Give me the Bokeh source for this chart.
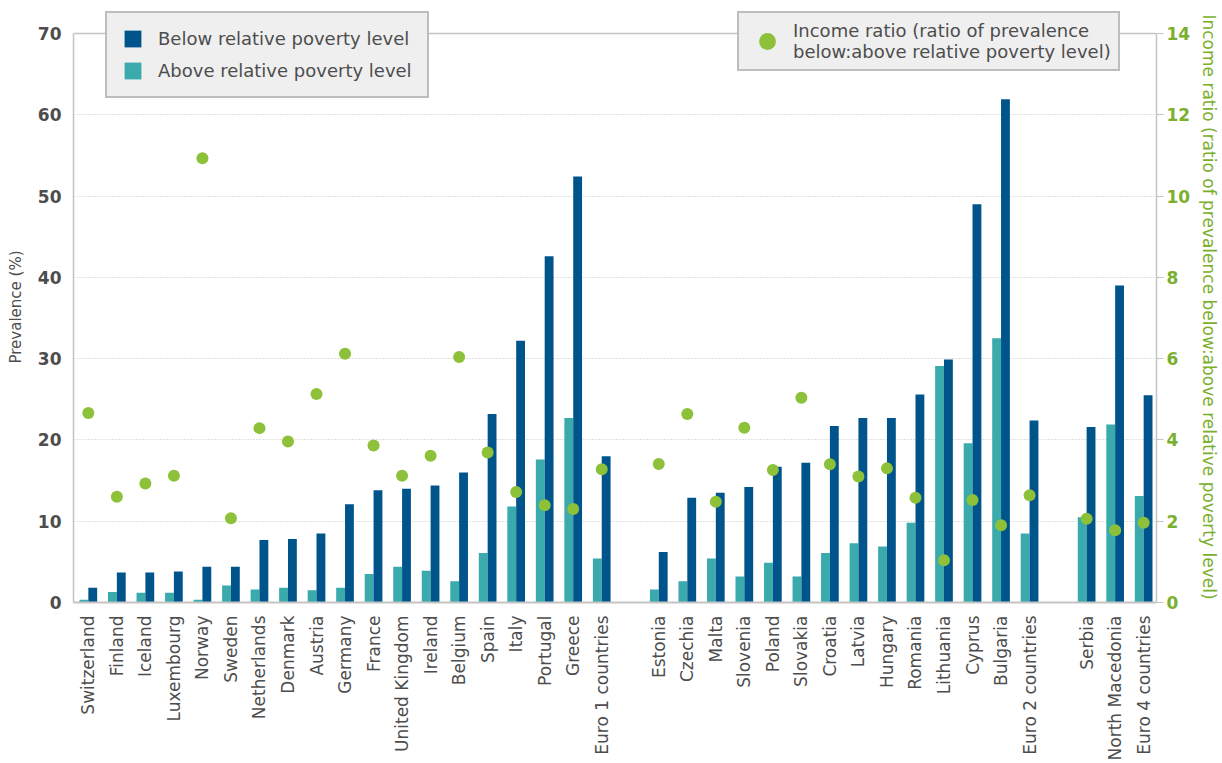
import numpy as np
from bokeh.plotting import figure
from bokeh.models import (Range1d, LinearAxis, FixedTicker, Legend, LegendItem,
                          Span, ColumnDataSource)
from bokeh.transform import dodge
from bokeh.embed import file_html
from bokeh.resources import INLINE

# ---------------- data ----------------
group1 = ["Switzerland", "Finland", "Iceland", "Luxembourg", "Norway", "Sweden",
          "Netherlands", "Denmark", "Austria", "Germany", "France", "United Kingdom",
          "Ireland", "Belgium", "Spain", "Italy", "Portugal", "Greece", "Euro 1 countries"]
below1 = [1.8, 3.7, 3.7, 3.8, 4.4, 4.4, 7.7, 7.8, 8.5, 12.1, 13.8, 14.0, 14.4, 16.0,
          23.2, 32.2, 42.6, 52.4, 18.0]
above1 = [0.35, 1.3, 1.2, 1.2, 0.35, 2.1, 1.6, 1.8, 1.5, 1.8, 3.5, 4.4, 3.9, 2.6,
          6.1, 11.8, 17.6, 22.7, 5.4]
ratio1 = [4.66, 2.60, 2.93, 3.12, 10.93, 2.07, 4.29, 3.96, 5.13, 6.12, 3.86, 3.12,
          3.61, 6.04, 3.69, 2.72, 2.39, 2.30, 3.28]

group2 = ["Estonia", "Czechia", "Malta", "Slovenia", "Poland", "Slovakia", "Croatia",
          "Latvia", "Hungary", "Romania", "Lithuania", "Cyprus", "Bulgaria",
          "Euro 2 countries"]
below2 = [6.2, 12.9, 13.5, 14.2, 16.7, 17.2, 21.7, 22.7, 22.7, 25.6, 29.9, 49.0, 61.9, 22.4]
above2 = [1.6, 2.6, 5.4, 3.2, 4.9, 3.2, 6.1, 7.3, 6.9, 9.8, 29.1, 19.6, 32.5, 8.5]
ratio2 = [3.41, 4.64, 2.48, 4.30, 3.26, 5.04, 3.40, 3.10, 3.30, 2.58, 1.04, 2.52, 1.90, 2.64]

group3 = ["Serbia", "North Macedonia", "Euro 4 countries"]
below3 = [21.6, 39.0, 25.5]
above3 = [10.5, 21.9, 13.1]
ratio3 = [2.06, 1.78, 1.96]

left_ticks = [0, 10, 20, 30, 40, 50, 60, 70]
right_ticks = [0, 2, 4, 6, 8, 10, 12, 14]

# ---------------- styles ----------------
FONT = "DejaVu Sans"
DARK = "#00548C"
TEAL = "#3AAAAD"
GREEN = "#8DC13A"
GREEN_TXT = "#7BAF2E"
GREY_TXT = "#4D4D4D"
AXIS_GREY = "#C4C4C4"

# positions: one empty slot between the groups
names, xs, below, above, ratio = [], [], [], [], []
slot = 0
for g, b, a, r in [(group1, below1, above1, ratio1),
                   (group2, below2, above2, ratio2),
                   (group3, below3, above3, ratio3)]:
    for n, bb, aa, rr in zip(g, b, a, r):
        names.append(n); xs.append(slot); below.append(bb); above.append(aa); ratio.append(rr)
        slot += 1
    slot += 1

src = ColumnDataSource(dict(x=xs, name=names, below=below, above=above, ratio=ratio))

# frame spans 592 px; 70 sits 22 px below its top so the legends fit inside it
Y_TOP = 70 * 592 / 570
p = figure(width=1222, height=763, x_range=Range1d(-0.52, xs[-1] + 0.45),
           y_range=Range1d(0, Y_TOP), output_backend="svg", toolbar_location=None,
           min_border_left=73, min_border_right=59, min_border_top=11,
           min_border_bottom=160)
p.outline_line_color = None
p.background_fill_color = "white"
p.border_fill_color = "white"

p.extra_y_ranges = {"ratio": Range1d(0, Y_TOP / 5)}

r_above = p.vbar(x=dodge("x", -0.155), top="above", width=0.31, source=src,
                 fill_color=TEAL, line_color=None)
r_below = p.vbar(x=dodge("x", 0.155), top="below", width=0.31, source=src,
                 fill_color=DARK, line_color=None)
r_ratio = p.scatter(x="x", y="ratio", y_range_name="ratio", size=12, source=src,
                    fill_color=GREEN, line_color=None)

# grid
p.xgrid.visible = False
p.ygrid.ticker = FixedTicker(ticks=left_ticks[1:-1])
p.ygrid.grid_line_color = "#C2C2C2"
p.ygrid.grid_line_dash = "1 2"
p.ygrid.grid_line_width = 1.2
p.add_layout(Span(location=70, dimension="width", line_color=AXIS_GREY, line_width=1.5))

# x axis
xa = p.xaxis[0]
xa.ticker = FixedTicker(ticks=xs)
xa.major_label_overrides = {x: n for x, n in zip(xs, names)}
xa.major_label_orientation = np.pi / 2
xa.major_label_text_font = FONT
xa.major_label_text_font_size = "17px"
xa.major_label_text_color = GREY_TXT
xa.major_label_standoff = 7
xa.major_tick_line_color = None
xa.minor_tick_line_color = None
xa.axis_line_color = AXIS_GREY
xa.axis_line_width = 2

# left axis
ya = p.yaxis[0]
ya.ticker = FixedTicker(ticks=left_ticks)
ya.bounds = (0, 70)
ya.axis_label = "Prevalence (%)"
ya.axis_label_text_font = FONT
ya.axis_label_text_font_style = "normal"
ya.axis_label_text_font_size = "15px"
ya.axis_label_text_color = GREY_TXT
ya.axis_label_standoff = 10
ya.major_label_text_font = FONT
ya.major_label_text_font_style = "bold"
ya.major_label_text_font_size = "17px"
ya.major_label_text_color = GREY_TXT
ya.major_label_standoff = 6
ya.major_tick_line_color = None
ya.minor_tick_line_color = None
ya.axis_line_color = AXIS_GREY
ya.axis_line_width = 1.5

# right axis
ra = LinearAxis(y_range_name="ratio", ticker=FixedTicker(ticks=right_ticks))
ra.bounds = (0, 14)
ra.axis_label = "Income ratio (ratio of prevalence below:above relative poverty level)"
ra.axis_label_text_font = FONT
ra.axis_label_text_font_style = "normal"
ra.axis_label_text_font_size = "17px"
ra.axis_label_text_color = GREEN_TXT
ra.axis_label_standoff = 6
ra.major_label_text_font = FONT
ra.major_label_text_font_style = "bold"
ra.major_label_text_font_size = "17px"
ra.major_label_text_color = GREEN_TXT
ra.major_label_standoff = 3
ra.major_tick_out = 7
ra.major_tick_in = 0
ra.major_tick_line_color = AXIS_GREY
ra.minor_tick_line_color = None
ra.axis_line_color = AXIS_GREY
ra.axis_line_width = 1.5
p.add_layout(ra, "right")

# legends
def style_legend(lg):
    lg.label_text_font = FONT
    lg.label_text_font_size = "18px"
    lg.label_text_color = GREY_TXT
    lg.background_fill_color = "#EFEFEF"
    lg.background_fill_alpha = 1
    lg.border_line_color = "#BDBDBD"
    lg.border_line_width = 2
    lg.border_line_alpha = 1

leg1 = Legend(items=[LegendItem(label="Below relative poverty level", renderers=[r_below]),
                     LegendItem(label="Above relative poverty level", renderers=[r_above])],
              location=(32, 504), glyph_width=21, glyph_height=21, label_height=21,
              padding=15, spacing=11, label_standoff=15)
style_legend(leg1)
p.add_layout(leg1)

leg2 = Legend(items=[LegendItem(label="Income ratio (ratio of prevalence\nbelow:above relative poverty level)",
                                renderers=[r_ratio])],
              location=(664, 531), glyph_width=42, glyph_height=42, label_height=20,
              padding=7, spacing=0, label_standoff=5)
style_legend(leg2)
p.add_layout(leg2)

open("out.html", "w").write(file_html(p, INLINE))
